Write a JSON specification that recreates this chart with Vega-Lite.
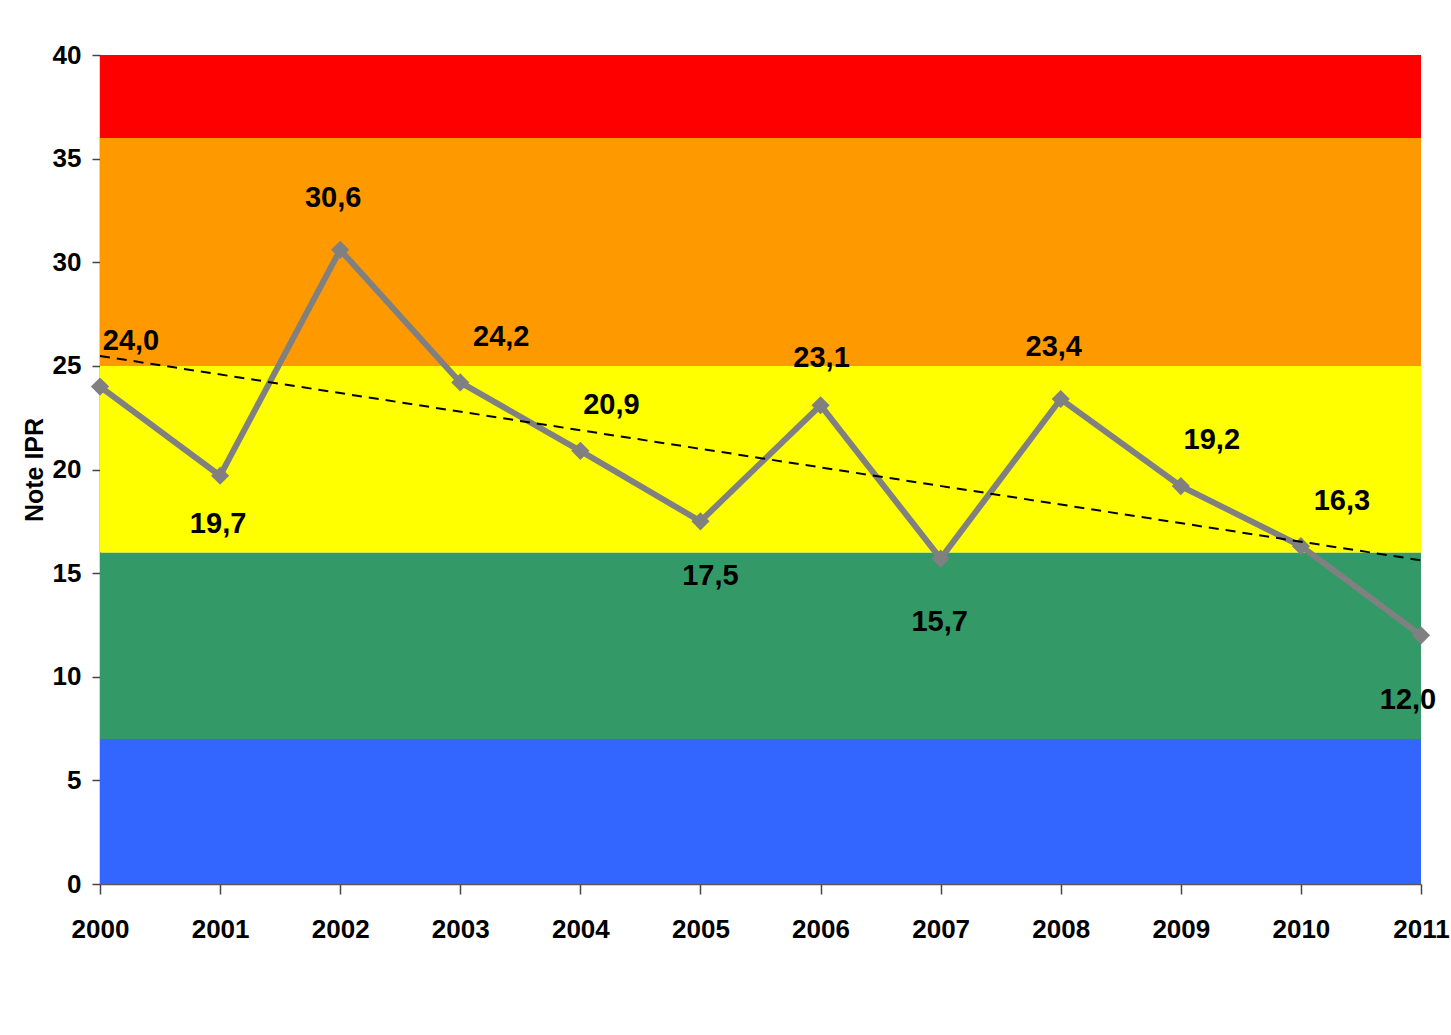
{
  "$schema": "https://vega.github.io/schema/vega-lite/v6.json",
  "width": 1321,
  "height": 829,
  "autosize": {"type": "none"},
  "padding": {"left": 100, "top": 55, "right": 30, "bottom": 151},
  "background": "white",
  "config": {
    "view": {"stroke": null},
    "locale": {
      "number": {"decimal": ",", "thousands": ".", "grouping": [3], "currency": ["", " €"]}
    },
    "axis": {
      "labelFont": "Liberation Sans, Arial, sans-serif",
      "labelFontWeight": "bold",
      "labelFontSize": 26,
      "labelColor": "black",
      "grid": false,
      "domainColor": "#555555",
      "domainWidth": 1.5,
      "tickColor": "#444444",
      "tickWidth": 1.5
    },
    "text": {
      "font": "Liberation Sans, Arial, sans-serif",
      "fontSize": 29,
      "fontWeight": "bold",
      "color": "black",
      "align": "center",
      "baseline": "middle"
    }
  },
  "datasets": {
    "ipr": [
      {"annee": 2000, "note": 24.0},
      {"annee": 2001, "note": 19.7},
      {"annee": 2002, "note": 30.6},
      {"annee": 2003, "note": 24.2},
      {"annee": 2004, "note": 20.9},
      {"annee": 2005, "note": 17.5},
      {"annee": 2006, "note": 23.1},
      {"annee": 2007, "note": 15.7},
      {"annee": 2008, "note": 23.4},
      {"annee": 2009, "note": 19.2},
      {"annee": 2010, "note": 16.3},
      {"annee": 2011, "note": 12.0}
    ],
    "classes": [
      {"classe": "A", "bas": 0, "haut": 7},
      {"classe": "B", "bas": 7, "haut": 16},
      {"classe": "C", "bas": 16, "haut": 25},
      {"classe": "D", "bas": 25, "haut": 36},
      {"classe": "E", "bas": 36, "haut": 40}
    ]
  },
  "layer": [
    {
      "data": {"name": "classes"},
      "mark": {"type": "rect"},
      "encoding": {
        "x": {"datum": 2000, "type": "quantitative", "scale": {"domain": [2000, 2011], "nice": false, "zero": false}},
        "x2": {"datum": 2011},
        "y": {"field": "bas", "type": "quantitative", "scale": {"domain": [0, 40], "nice": false}},
        "y2": {"field": "haut"},
        "color": {
          "field": "classe",
          "type": "nominal",
          "legend": null,
          "scale": {
            "domain": ["A", "B", "C", "D", "E"],
            "range": ["#3366FF", "#339966", "#FFFF00", "#FF9900", "#FF0000"]
          }
        }
      }
    },
    {
      "data": {"name": "ipr"},
      "encoding": {
        "x": {
          "field": "annee",
          "type": "quantitative",
          "scale": {"domain": [2000, 2011], "nice": false, "zero": false},
          "axis": {
            "title": null,
            "values": [2000, 2001, 2002, 2003, 2004, 2005, 2006, 2007, 2008, 2009, 2010, 2011],
            "format": "d",
            "tickSize": 10,
            "labelPadding": 22,
            "labelFlush": false,
            "labelOverlap": false
          }
        },
        "y": {
          "field": "note",
          "type": "quantitative",
          "scale": {"domain": [0, 40], "nice": false},
          "axis": {
            "title": "Note IPR",
            "titleFont": "Liberation Sans, Arial, sans-serif",
            "titleFontSize": 25,
            "titleFontWeight": "bold",
            "titleColor": "black",
            "titlePadding": 5,
            "values": [0, 5, 10, 15, 20, 25, 30, 35, 40],
            "format": "d",
            "tickSize": 8,
            "labelPadding": 11,
            "labelFlush": false,
            "labelOverlap": false
          }
        }
      },
      "layer": [
        {
          "mark": {
            "type": "line",
            "color": "#808080",
            "strokeWidth": 6,
            "point": {"shape": "diamond", "size": 330, "filled": true, "color": "#808080", "opacity": 1}
          }
        },
        {
          "transform": [{"regression": "note", "on": "annee", "extent": [2000, 2011]}],
          "mark": {"type": "line", "color": "black", "strokeWidth": 2, "strokeDash": [10, 7]}
        },
        {
          "transform": [{"filter": {"field": "annee", "oneOf": [2000, 2004, 2009]}}],
          "mark": {"type": "text", "dx": 31, "dy": -46},
          "encoding": {"text": {"field": "note", "type": "quantitative", "format": ".1f"}}
        },
        {
          "transform": [{"filter": {"field": "annee", "oneOf": [2003, 2010]}}],
          "mark": {"type": "text", "dx": 41, "dy": -45},
          "encoding": {"text": {"field": "note", "type": "quantitative", "format": ".1f"}}
        },
        {
          "transform": [{"filter": {"field": "annee", "oneOf": [2002, 2008]}}],
          "mark": {"type": "text", "dx": -7, "dy": -52},
          "encoding": {"text": {"field": "note", "type": "quantitative", "format": ".1f"}}
        },
        {
          "transform": [{"filter": {"field": "annee", "oneOf": [2006]}}],
          "mark": {"type": "text", "dx": 1, "dy": -47},
          "encoding": {"text": {"field": "note", "type": "quantitative", "format": ".1f"}}
        },
        {
          "transform": [{"filter": {"field": "annee", "oneOf": [2001]}}],
          "mark": {"type": "text", "dx": -2, "dy": 48},
          "encoding": {"text": {"field": "note", "type": "quantitative", "format": ".1f"}}
        },
        {
          "transform": [{"filter": {"field": "annee", "oneOf": [2005]}}],
          "mark": {"type": "text", "dx": 10, "dy": 55},
          "encoding": {"text": {"field": "note", "type": "quantitative", "format": ".1f"}}
        },
        {
          "transform": [{"filter": {"field": "annee", "oneOf": [2007]}}],
          "mark": {"type": "text", "dx": -1, "dy": 63},
          "encoding": {"text": {"field": "note", "type": "quantitative", "format": ".1f"}}
        },
        {
          "transform": [{"filter": {"field": "annee", "oneOf": [2011]}}],
          "mark": {"type": "text", "dx": -13, "dy": 65},
          "encoding": {"text": {"field": "note", "type": "quantitative", "format": ".1f"}}
        }
      ]
    }
  ]
}
